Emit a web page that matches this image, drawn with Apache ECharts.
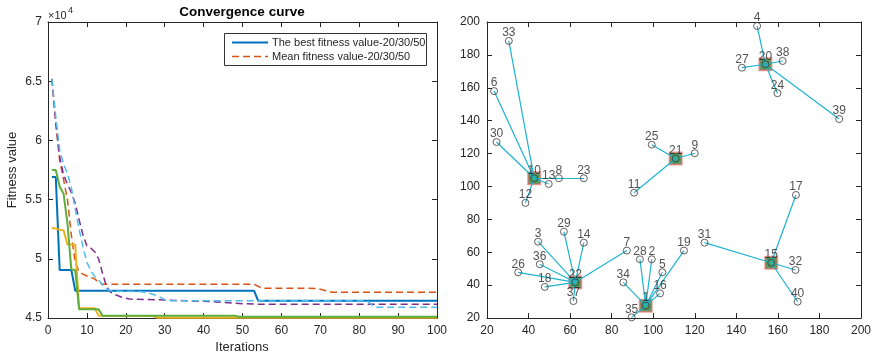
<!DOCTYPE html>
<html>
<head>
<meta charset="utf-8">
<script src="https://cdn.jsdelivr.net/npm/echarts@6/dist/echarts.min.js"></script>
<style>html,body{margin:0;padding:0;background:#fff}#c{width:874px;height:358px}</style>
</head>
<body>
<div id="c"></div>
<script>
// ---------- Left chart: convergence curves (values in units of 1e4) ----------
const xTicks = [0, 10, 20, 30, 40, 50, 60, 70, 80, 90, 100];
const yTicks = [4.5, 5, 5.5, 6, 6.5, 7];
const bestA = [[1,5.69],[2,5.69],[3,4.905],[6,4.905],[7,4.73],[53,4.73],[54,4.646],[100,4.646]];
const meanA = [[1,6.52],[2,6.15],[3,5.83],[4,5.67],[5,5.5],[6,5.2],[7,4.97],[8,4.89],[9,4.87],[10,4.855],[11,4.845],[12,4.83],[13,4.8],[14,4.785],[53,4.785],[55,4.752],[69,4.75],[71,4.735],[73,4.718],[100,4.718]];
const bestB = [[1,5.26],[2,5.255],[3,5.245],[4,5.24],[5,5.12],[7,5.12],[8,4.583],[12,4.583],[13,4.52],[27,4.517],[28,4.503],[100,4.503]];
const meanB = [[1,6.52],[2,6.15],[3,5.86],[4,5.71],[5,5.63],[6,5.56],[7,5.47],[8,5.33],[9,5.2],[10,5.11],[11,5.09],[12,5.06],[13,5.0],[14,4.88],[15,4.77],[16,4.72],[17,4.7],[19,4.675],[21,4.66],[30,4.652],[42,4.638],[48,4.624],[54,4.616],[100,4.616]];
const bestC = [[1,5.75],[2,5.75],[3,5.61],[4,5.55],[5,5.3],[6,4.91],[7,4.905],[8,4.573],[13,4.573],[14,4.52],[48,4.52],[49,4.51],[100,4.51]];
const meanC = [[1,6.52],[2,6.2],[3,5.92],[4,5.8],[5,5.72],[6,5.6],[7,5.42],[8,5.25],[9,5.1],[10,4.97],[11,4.9],[12,4.85],[13,4.82],[14,4.78],[15,4.75],[16,4.73],[24,4.722],[26,4.71],[28,4.69],[30,4.655],[31,4.646],[82,4.646],[84,4.59],[100,4.59]];
const legendBest = 'The best fitness value-20/30/50';
const legendMean = 'Mean fitness value-20/30/50';

// ---------- Right chart: clustering ----------
const nodeIds = [1,2,3,4,5,6,7,8,9,10,11,12,13,14,15,16,17,18,19,20,21,22,23,24,25,26,27,28,29,30,31,32,33,34,35,36,37,38,39,40];
const nodeX = [96.4,99.3,44.6,150,104.4,23.4,87.3,54.6,120,42.7,90.8,38.5,49.7,66.6,156.8,103.3,168.7,47.8,114.8,154,110.8,62.5,66.6,159.8,99.3,35,142.7,93.6,57,24.6,124.7,168.5,30.5,85.6,89.6,45.4,61.6,162.3,189.5,169.5];
const nodeY = [27.5,55.7,66.4,197.6,47.8,158,61,105,120.2,105,96.2,90,101.5,65.8,53.6,35,94.8,38.9,61,174.3,117,41.7,105,156.7,125.4,47.8,172.2,55.7,72.5,127,65.8,49.2,188.5,41.7,20.4,52.7,30.3,176.3,141,29.9];
const assignedCenter = [1,1,22,20,1,10,22,10,21,10,21,10,10,22,15,1,15,22,1,20,21,22,10,20,21,22,20,1,22,10,15,15,10,1,1,22,22,20,20,15];
const centerIds = [10,20,21,22,1,15];
const cTicks = [20,40,60,80,100,120,140,160,180,200];

const FONT = 'Liberation Sans, Arial, Helvetica, sans-serif';
const AX = '#262626';
const C_BEST = '#0072BD', C_MEAN = '#D95319';

function boxAxis(grid, pos, min, max, interval, labels, margin) {
  return {
    type: 'value', gridIndex: grid, position: pos, min: min, max: max, interval: interval,
    axisLine: {show: true, onZero: false, lineStyle: {color: AX, width: 1}},
    axisTick: {show: true, inside: true, length: 5, lineStyle: {color: AX}},
    axisLabel: labels ? {show: true, color: AX, fontFamily: FONT, fontSize: 12, margin: margin,
      formatter: v => String(+v.toFixed(2))} : {show: false},
    splitLine: {show: false}
  };
}

const idx = id => nodeIds.indexOf(id);
const pointData = nodeIds.map((id, i) => [nodeX[i], nodeY[i], id]);
const centerData = centerIds.map(id => [nodeX[idx(id)], nodeY[idx(id)], id]);
const linkData = [];
nodeIds.forEach((id, i) => {
  const c = assignedCenter[i];
  if (c !== id) linkData.push({coords: [[nodeX[idx(c)], nodeY[idx(c)]], [nodeX[i], nodeY[i]]]});
});

function curve(name, data, color, dashed) {
  return {
    name: name, type: 'line', xAxisIndex: 0, yAxisIndex: 0, data: data,
    symbol: 'none', animation: false,
    lineStyle: {color: color, width: dashed ? 1.5 : 2, type: dashed ? [7, 4] : 'solid'},
    itemStyle: {color: color}
  };
}

const chart = echarts.init(document.getElementById('c'), null, {renderer: 'canvas'});
chart.setOption({
  animation: false,
  textStyle: {fontFamily: FONT},
  grid: [
    {left: 48, right: 437, top: 22, bottom: 40},
    {left: 487, right: 11, top: 22, bottom: 40}
  ],
  xAxis: [
    boxAxis(0, 'bottom', xTicks[0], xTicks[xTicks.length-1], 10, true, 7),
    boxAxis(0, 'top', 0, 100, 10, false),
    boxAxis(1, 'bottom', cTicks[0], cTicks[cTicks.length-1], 20, true, 7),
    boxAxis(1, 'top', 20, 200, 20, false)
  ],
  yAxis: [
    boxAxis(0, 'left', yTicks[0], yTicks[yTicks.length-1], 0.5, true, 6),
    boxAxis(0, 'right', 4.5, 7, 0.5, false),
    boxAxis(1, 'left', cTicks[0], cTicks[cTicks.length-1], 20, true, 7),
    boxAxis(1, 'right', 20, 200, 20, false)
  ],
  graphic: [
    {type: 'text', x: 242, y: 12, style: {text: 'Convergence curve', font: 'bold 13.5px ' + FONT, fill: '#000', align: 'center', verticalAlign: 'middle'}},
    {type: 'text', x: 242, y: 347, style: {text: 'Iterations', font: '13px ' + FONT, fill: AX, align: 'center', verticalAlign: 'middle'}},
    {type: 'text', x: 12, y: 170, rotation: Math.PI / 2, style: {text: 'Fitness value', font: '13px ' + FONT, fill: AX, align: 'center', verticalAlign: 'middle'}},
    {type: 'text', x: 48, y: 16, style: {text: '×10', font: '11px ' + FONT, fill: AX, align: 'left', verticalAlign: 'middle'}},
    {type: 'text', x: 68, y: 11, style: {text: '4', font: '9px ' + FONT, fill: AX, align: 'left', verticalAlign: 'middle'}},
    // legend box
    {type: 'rect', z: 100, shape: {x: 224.5, y: 33.5, width: 202, height: 32},
      style: {fill: '#fff', stroke: '#333', lineWidth: 1}},
    {type: 'line', z: 101, shape: {x1: 232, y1: 42.5, x2: 268, y2: 42.5},
      style: {stroke: C_BEST, lineWidth: 2}},
    {type: 'line', z: 101, shape: {x1: 232, y1: 56.5, x2: 268, y2: 56.5},
      style: {stroke: C_MEAN, lineWidth: 1.5, lineDash: [7, 4]}},
    {type: 'text', z: 101, x: 272, y: 43, style: {text: legendBest, font: '11px ' + FONT, fill: AX, align: 'left', verticalAlign: 'middle'}},
    {type: 'text', z: 101, x: 272, y: 56.5, style: {text: legendMean, font: '11px ' + FONT, fill: AX, align: 'left', verticalAlign: 'middle'}}
  ],
  series: [
    curve(legendBest, bestA, C_BEST, false),
    curve(legendMean, meanA, C_MEAN, true),
    curve('best2', bestB, '#EDB120', false),
    curve('mean2', meanB, '#7E2F8E', true),
    curve('best3', bestC, '#5FAD3A', false),
    curve('mean3', meanC, '#4DBEEE', true),
    {
      type: 'scatter', xAxisIndex: 2, yAxisIndex: 2, data: centerData, z: 2,
      symbol: 'rect', symbolSize: 12,
      itemStyle: {color: '#1E8A3C', borderColor: 'rgba(232,90,90,0.75)', borderWidth: 2}
    },
    {
      type: 'lines', coordinateSystem: 'cartesian2d', xAxisIndex: 2, yAxisIndex: 2, z: 3,
      data: linkData, symbol: 'none',
      lineStyle: {color: '#1DB3CF', width: 1.2, opacity: 1}
    },
    {
      type: 'scatter', xAxisIndex: 2, yAxisIndex: 2, data: pointData, z: 4,
      symbol: 'circle', symbolSize: 7,
      itemStyle: {color: 'rgba(0,0,0,0)', borderColor: '#3a3a3a', borderWidth: 1},
      label: {show: true, position: 'inside', offset: [0, -8], color: '#262626', fontFamily: FONT, fontSize: 12,
        formatter: p => String(p.value[2])}
    }
  ]
});
</script>
</body>
</html>
